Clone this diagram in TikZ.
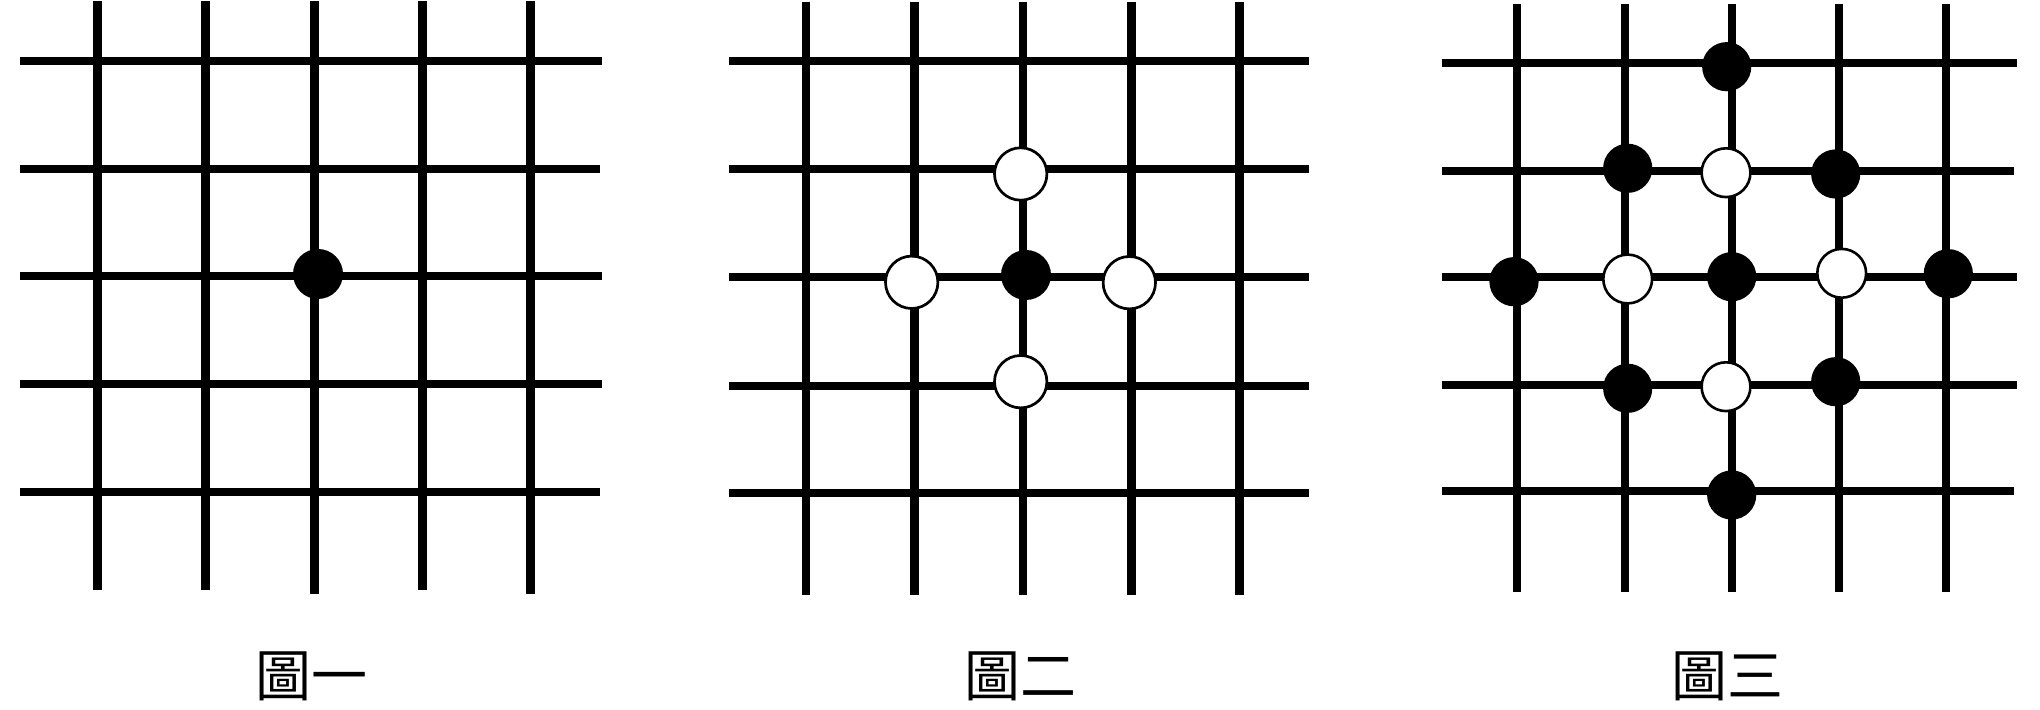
\documentclass[tikz,border=0pt]{standalone}
\usepackage{fontspec}
\newfontfamily\cjk{Noto Sans CJK TC}
\begin{document}
\begin{tikzpicture}[x=0.5pt,y=-0.5pt,
  gridline/.style={line width=4.3pt,black},
  bstoneA/.style={circle,fill=black,inner sep=0pt,minimum size=25pt},
  wstoneA/.style={circle,fill=white,draw=black,line width=1.35pt,inner sep=0pt,minimum size=26.2pt},
  bstoneB/.style={circle,fill=black,inner sep=0pt,minimum size=24.6pt},
  wstoneB/.style={circle,fill=white,draw=black,line width=1.3pt,inner sep=0pt,minimum size=24.4pt},
  caption/.style={font=\cjk\fontsize{28pt}{30pt}\selectfont,inner sep=0pt}]
\useasboundingbox (0,0) rectangle (2040,710);
% Panel 1
\foreach \x/\b in {97.7/590,205.7/590,314.3/594,422.5/590,530.5/594}
  \draw[gridline] (\x,1) -- (\x,\b);
\foreach \y/\r in {61/602,169/600,276/602,384/602,492/600}
  \draw[gridline] (20,\y) -- (\r,\y);
\node[bstoneA] (p1c) at (318,274) {};
\node[caption] (cap1) at (311.5,676) {圖一};
% Panel 2
\foreach \x in {806,914.5,1023,1131.5,1239.5}
  \draw[gridline] (\x,2) -- (\x,595);
\foreach \y in {61,169,277,386,493}
  \draw[gridline] (729,\y) -- (1309,\y);
\node[wstoneA] (p2n) at (1020.7,174) {};
\node[wstoneA] (p2w) at (911.7,282.3) {};
\node[wstoneA] (p2e) at (1129.3,282.7) {};
\node[wstoneA] (p2s) at (1020.7,381.7) {};
\node[bstoneA] (p2c) at (1026,275) {};
\node[caption] (cap2) at (1020,676) {圖二};
% Panel 3
\foreach \x in {1517,1625,1732,1839,1946}
  \draw[gridline] (\x,4) -- (\x,592);
\foreach \y/\r in {63/2017,171/2014,277/2017,385/2017,491/2014}
  \draw[gridline] (1441.5,\y) -- (\r,\y);
\node[bstoneB] (b1) at (1726.7,66.7) {};
\node[bstoneB] (b2) at (1627.7,168.3) {};
\node[bstoneB] (b3) at (1835.7,174) {};
\node[bstoneB] (b4) at (1514,281.7) {};
\node[bstoneB] (b5) at (1731.7,276.7) {};
\node[bstoneB] (b6) at (1948.3,273.7) {};
\node[bstoneB] (b7) at (1627.7,388.3) {};
\node[bstoneB] (b8) at (1835.7,381.7) {};
\node[bstoneB] (b9) at (1731.7,495) {};
\node[wstoneB] (w1) at (1726,172.7) {};
\node[wstoneB] (w2) at (1627.7,279) {};
\node[wstoneB] (w3) at (1841.7,273.3) {};
\node[wstoneB] (w4) at (1726,386.7) {};
\node[caption] (cap3) at (1727.6,676) {圖三};
\end{tikzpicture}
\end{document}
